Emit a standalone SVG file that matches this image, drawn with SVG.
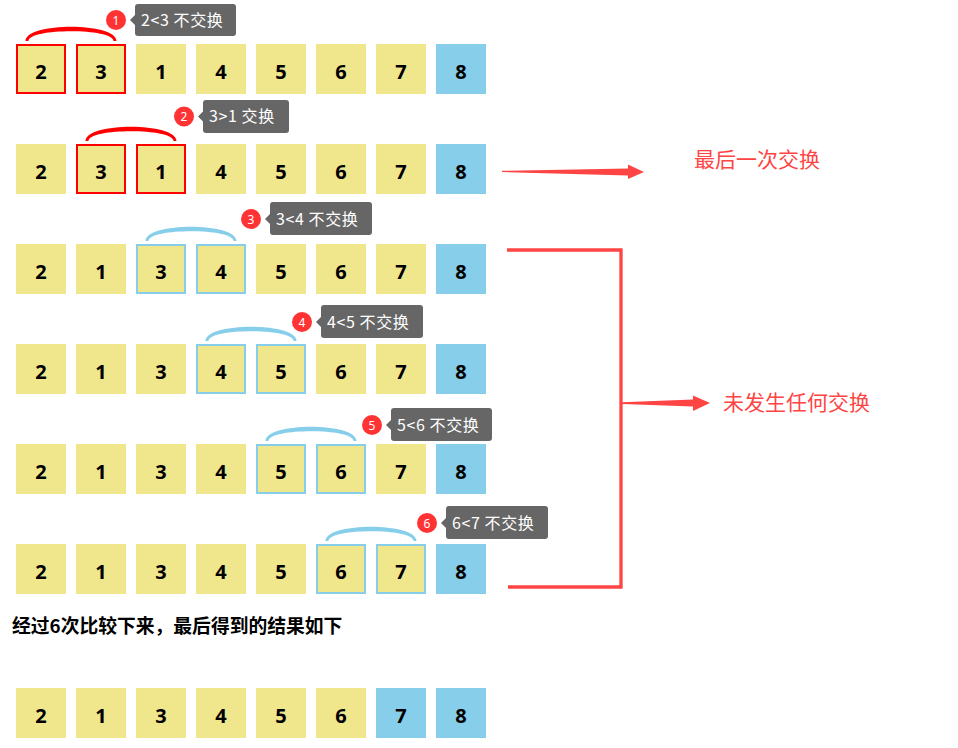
<svg xmlns="http://www.w3.org/2000/svg" width="958" height="748" viewBox="0 0 958 748">
<style>
.k{fill:#f0e68c}
.b{fill:#87ceeb}
.rb{fill:#f0e68c;stroke:#ff0000;stroke-width:2}
.bb{fill:#f0e68c;stroke:#87ceeb;stroke-width:2}
.n{font-family:"Noto Sans","Liberation Sans",sans-serif;font-weight:bold;font-size:20px;fill:#000;text-anchor:middle}
.tip{fill:#666}
.tt{font-family:"Noto Sans CJK SC","Noto Sans",sans-serif;font-size:16px;letter-spacing:0.6px;fill:#fff}
.bd{fill:#f33}
.bn{font-family:"Noto Sans","Liberation Sans",sans-serif;font-size:12px;fill:#fff;text-anchor:middle}
.ra{fill:#ff0000}
.ba{fill:#87ceeb}
.lab{font-family:"Noto Sans CJK SC",sans-serif;font-size:21px;fill:#f44}
.cap{font-family:"Noto Sans CJK SC",sans-serif;font-size:18.8px;font-weight:bold;fill:#000}
</style>
<g id="row1">
<g id="r1n1"><rect class="rb" x="17" y="45" width="48" height="48"/><text class="n" x="41" y="79">2</text></g>
<g id="r1n2"><rect class="rb" x="77" y="45" width="48" height="48"/><text class="n" x="101" y="79">3</text></g>
<g id="r1n3"><rect class="k" x="136" y="44" width="50" height="50"/><text class="n" x="161" y="79">1</text></g>
<g id="r1n4"><rect class="k" x="196" y="44" width="50" height="50"/><text class="n" x="221" y="79">4</text></g>
<g id="r1n5"><rect class="k" x="256" y="44" width="50" height="50"/><text class="n" x="281" y="79">5</text></g>
<g id="r1n6"><rect class="k" x="316" y="44" width="50" height="50"/><text class="n" x="341" y="79">6</text></g>
<g id="r1n7"><rect class="k" x="376" y="44" width="50" height="50"/><text class="n" x="401" y="79">7</text></g>
<g id="r1n8"><rect class="b" x="436" y="44" width="50" height="50"/><text class="n" x="461" y="79">8</text></g>
</g>
<g id="row2">
<g id="r2n1"><rect class="k" x="16" y="144" width="50" height="50"/><text class="n" x="41" y="179">2</text></g>
<g id="r2n2"><rect class="rb" x="77" y="145" width="48" height="48"/><text class="n" x="101" y="179">3</text></g>
<g id="r2n3"><rect class="rb" x="137" y="145" width="48" height="48"/><text class="n" x="161" y="179">1</text></g>
<g id="r2n4"><rect class="k" x="196" y="144" width="50" height="50"/><text class="n" x="221" y="179">4</text></g>
<g id="r2n5"><rect class="k" x="256" y="144" width="50" height="50"/><text class="n" x="281" y="179">5</text></g>
<g id="r2n6"><rect class="k" x="316" y="144" width="50" height="50"/><text class="n" x="341" y="179">6</text></g>
<g id="r2n7"><rect class="k" x="376" y="144" width="50" height="50"/><text class="n" x="401" y="179">7</text></g>
<g id="r2n8"><rect class="b" x="436" y="144" width="50" height="50"/><text class="n" x="461" y="179">8</text></g>
</g>
<g id="row3">
<g id="r3n1"><rect class="k" x="16" y="244" width="50" height="50"/><text class="n" x="41" y="279">2</text></g>
<g id="r3n2"><rect class="k" x="76" y="244" width="50" height="50"/><text class="n" x="101" y="279">1</text></g>
<g id="r3n3"><rect class="bb" x="137" y="245" width="48" height="48"/><text class="n" x="161" y="279">3</text></g>
<g id="r3n4"><rect class="bb" x="197" y="245" width="48" height="48"/><text class="n" x="221" y="279">4</text></g>
<g id="r3n5"><rect class="k" x="256" y="244" width="50" height="50"/><text class="n" x="281" y="279">5</text></g>
<g id="r3n6"><rect class="k" x="316" y="244" width="50" height="50"/><text class="n" x="341" y="279">6</text></g>
<g id="r3n7"><rect class="k" x="376" y="244" width="50" height="50"/><text class="n" x="401" y="279">7</text></g>
<g id="r3n8"><rect class="b" x="436" y="244" width="50" height="50"/><text class="n" x="461" y="279">8</text></g>
</g>
<g id="row4">
<g id="r4n1"><rect class="k" x="16" y="344" width="50" height="50"/><text class="n" x="41" y="379">2</text></g>
<g id="r4n2"><rect class="k" x="76" y="344" width="50" height="50"/><text class="n" x="101" y="379">1</text></g>
<g id="r4n3"><rect class="k" x="136" y="344" width="50" height="50"/><text class="n" x="161" y="379">3</text></g>
<g id="r4n4"><rect class="bb" x="197" y="345" width="48" height="48"/><text class="n" x="221" y="379">4</text></g>
<g id="r4n5"><rect class="bb" x="257" y="345" width="48" height="48"/><text class="n" x="281" y="379">5</text></g>
<g id="r4n6"><rect class="k" x="316" y="344" width="50" height="50"/><text class="n" x="341" y="379">6</text></g>
<g id="r4n7"><rect class="k" x="376" y="344" width="50" height="50"/><text class="n" x="401" y="379">7</text></g>
<g id="r4n8"><rect class="b" x="436" y="344" width="50" height="50"/><text class="n" x="461" y="379">8</text></g>
</g>
<g id="row5">
<g id="r5n1"><rect class="k" x="16" y="444" width="50" height="50"/><text class="n" x="41" y="479">2</text></g>
<g id="r5n2"><rect class="k" x="76" y="444" width="50" height="50"/><text class="n" x="101" y="479">1</text></g>
<g id="r5n3"><rect class="k" x="136" y="444" width="50" height="50"/><text class="n" x="161" y="479">3</text></g>
<g id="r5n4"><rect class="k" x="196" y="444" width="50" height="50"/><text class="n" x="221" y="479">4</text></g>
<g id="r5n5"><rect class="bb" x="257" y="445" width="48" height="48"/><text class="n" x="281" y="479">5</text></g>
<g id="r5n6"><rect class="bb" x="317" y="445" width="48" height="48"/><text class="n" x="341" y="479">6</text></g>
<g id="r5n7"><rect class="k" x="376" y="444" width="50" height="50"/><text class="n" x="401" y="479">7</text></g>
<g id="r5n8"><rect class="b" x="436" y="444" width="50" height="50"/><text class="n" x="461" y="479">8</text></g>
</g>
<g id="row6">
<g id="r6n1"><rect class="k" x="16" y="544" width="50" height="50"/><text class="n" x="41" y="579">2</text></g>
<g id="r6n2"><rect class="k" x="76" y="544" width="50" height="50"/><text class="n" x="101" y="579">1</text></g>
<g id="r6n3"><rect class="k" x="136" y="544" width="50" height="50"/><text class="n" x="161" y="579">3</text></g>
<g id="r6n4"><rect class="k" x="196" y="544" width="50" height="50"/><text class="n" x="221" y="579">4</text></g>
<g id="r6n5"><rect class="k" x="256" y="544" width="50" height="50"/><text class="n" x="281" y="579">5</text></g>
<g id="r6n6"><rect class="bb" x="317" y="545" width="48" height="48"/><text class="n" x="341" y="579">6</text></g>
<g id="r6n7"><rect class="bb" x="377" y="545" width="48" height="48"/><text class="n" x="401" y="579">7</text></g>
<g id="r6n8"><rect class="b" x="436" y="544" width="50" height="50"/><text class="n" x="461" y="579">8</text></g>
</g>
<g id="row7">
<g id="r7n1"><rect class="k" x="16" y="688" width="50" height="50"/><text class="n" x="41" y="723">2</text></g>
<g id="r7n2"><rect class="k" x="76" y="688" width="50" height="50"/><text class="n" x="101" y="723">1</text></g>
<g id="r7n3"><rect class="k" x="136" y="688" width="50" height="50"/><text class="n" x="161" y="723">3</text></g>
<g id="r7n4"><rect class="k" x="196" y="688" width="50" height="50"/><text class="n" x="221" y="723">4</text></g>
<g id="r7n5"><rect class="k" x="256" y="688" width="50" height="50"/><text class="n" x="281" y="723">5</text></g>
<g id="r7n6"><rect class="k" x="316" y="688" width="50" height="50"/><text class="n" x="341" y="723">6</text></g>
<g id="r7n7"><rect class="b" x="376" y="688" width="50" height="50"/><text class="n" x="401" y="723">7</text></g>
<g id="r7n8"><rect class="b" x="436" y="688" width="50" height="50"/><text class="n" x="461" y="723">8</text></g>
</g>
<g id="tips">
<g id="tip1"><circle class="bd" cx="116" cy="20" r="10"/><text class="bn" x="116" y="24.5">1</text><rect class="tip" x="135" y="4" width="101" height="32" rx="3"/><polygon class="tip" points="130,20 135,15 135,25"/><text class="tt" x="141" y="25.5">2&lt;3 不交换</text></g>
<g id="tip2"><circle class="bd" cx="184" cy="116.5" r="10"/><text class="bn" x="184" y="121">2</text><rect class="tip" x="203" y="100" width="86" height="33" rx="3"/><polygon class="tip" points="198,116.5 203,111.5 203,121.5"/><text class="tt" x="209" y="122">3&gt;1 交换</text></g>
<g id="tip3"><circle class="bd" cx="251" cy="219" r="10"/><text class="bn" x="251" y="223.5">3</text><rect class="tip" x="270" y="202" width="102" height="33" rx="3"/><polygon class="tip" points="265,219 270,214 270,224"/><text class="tt" x="276" y="224.5">3&lt;4 不交换</text></g>
<g id="tip4"><circle class="bd" cx="302" cy="322" r="10"/><text class="bn" x="302" y="326.5">4</text><rect class="tip" x="321" y="305" width="102" height="33" rx="3"/><polygon class="tip" points="316,322 321,317 321,327"/><text class="tt" x="327" y="327.5">4&lt;5 不交换</text></g>
<g id="tip5"><circle class="bd" cx="372" cy="425" r="10"/><text class="bn" x="372" y="429.5">5</text><rect class="tip" x="391" y="408" width="101" height="33" rx="3"/><polygon class="tip" points="386,425 391,420 391,430"/><text class="tt" x="397" y="430.5">5&lt;6 不交换</text></g>
<g id="tip6"><circle class="bd" cx="427" cy="523" r="10"/><text class="bn" x="427" y="527.5">6</text><rect class="tip" x="446" y="506" width="102" height="33" rx="3"/><polygon class="tip" points="441,523 446,518 446,528"/><text class="tt" x="452" y="528.5">6&lt;7 不交换</text></g>
</g>
<g id="labels">
<g id="lab1"><text class="lab" x="694" y="167">最后一次交换</text></g>
<g id="lab2"><text class="lab" x="723" y="410">未发生任何交换</text></g>
<g id="caption"><text class="cap" x="12" y="633">经过6次比较下来，最后得到的结果如下</text></g>
</g>
<g id="connectors">
<path class="ra" d="M25.5 41 C25.5 22 116.5 22 116.5 41 L113.5 41 C113.5 28 28.5 28 28.5 41 Z"/>
<path class="ra" d="M85.5 141 C85.5 122 176.5 122 176.5 141 L173.5 141 C173.5 128 88.5 128 88.5 141 Z"/>
<path class="ba" d="M145.5 241 C145.5 222 236.5 222 236.5 241 L233.5 241 C233.5 228 148.5 228 148.5 241 Z"/>
<path class="ba" d="M205.5 341 C205.5 322 296.5 322 296.5 341 L293.5 341 C293.5 328 208.5 328 208.5 341 Z"/>
<path class="ba" d="M265.5 441 C265.5 422 356.5 422 356.5 441 L353.5 441 C353.5 428 268.5 428 268.5 441 Z"/>
<path class="ba" d="M325.5 541 C325.5 522 416.5 522 416.5 541 L413.5 541 C413.5 528 328.5 528 328.5 541 Z"/>
<polygon fill="#f44" points="502,170.8 628,168.5 628,164.5 644,172 628,179 628,175.5 502,172"/>
<path d="M507 250 H621 V587 H508" fill="none" stroke="#f44" stroke-width="3.3"/>
<polygon fill="#f44" points="622,402.3 693,399.5 693,395.5 710,403 693,411 693,406.5 622,404"/>
</g>
</svg>
